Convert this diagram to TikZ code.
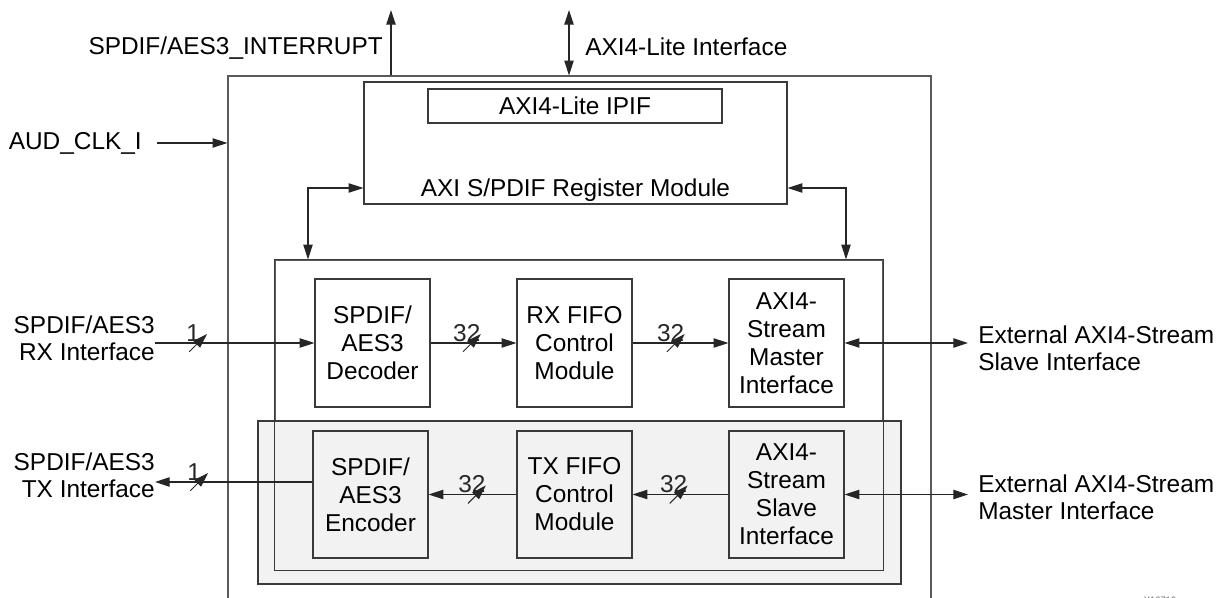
\documentclass[tikz,border=0pt]{standalone}
\usepackage{fontspec}
\setmainfont{Liberation Sans}
\usetikzlibrary{positioning}
\usetikzlibrary{arrows.meta}
\definecolor{linegray}{HTML}{5A5A5A}
\definecolor{boxgray}{HTML}{3A3A3A}
\definecolor{txfill}{HTML}{F2F2F2}
\tikzset{
    txt/.style = {inner sep=0pt, font=\fontsize{18.3pt}{20.5pt}\selectfont},
    frame/.style = {rectangle, draw=linegray, line width=0.9pt, inner sep=0pt},
    block/.style = {rectangle, draw=boxgray, line width=0.9pt, align=center, inner sep=0pt,
                    minimum width=86.25pt, minimum height=96pt, font=\fontsize{18.3pt}{21pt}\selectfont},
    sig/.style = {-{Triangle[length=11pt,width=7pt]}, line width=0.8pt, black!85},
    dsig/.style = {{Triangle[length=11pt,width=7pt]}-{Triangle[length=11pt,width=7pt]}, line width=0.8pt, black!85},
    busw/.style = {minimum size=13.5pt, inner sep=0pt, outer sep=0pt,
                   path picture={\draw[line width=0.7pt,black!85] (path picture bounding box.south west) -- (path picture bounding box.north east);}},
    buslbl/.style = {inner sep=0pt, label distance=-6pt, xshift=-3.75pt, font=\fontsize{18.3pt}{20.5pt}\selectfont}
}

\begin{document}
\begin{tikzpicture}[x=0.75pt, y=-0.75pt]
\useasboundingbox (0,0) rectangle (1225,598);
% core outline and register module
\node[frame, minimum width=527.25pt, minimum height=408pt] at (579.5,348) (outer) {};
\node[frame, draw=boxgray, minimum width=317.25pt, minimum height=91.5pt] at (575.5,143) (reg) {};
\node[frame, draw=boxgray, minimum width=220.5pt, minimum height=25.5pt, txt] at (575,106) (ipif) {AXI4-Lite IPIF};
\node[txt, anchor=base] at (575.5,197) (reglbl) {AXI S/PDIF Register Module};
%
\node[frame, minimum width=456pt, minimum height=232.5pt] at (579,415) (rxframe) {};
\node[frame, fill=txfill, draw=boxgray, minimum width=482.25pt, minimum height=122.25pt] at (579.5,502.5) (txframe) {};
\draw[boxgray, line width=0.9pt] (rxframe.south west) rectangle (rxframe.north east);
%
\node[block] at (372.5,343) (dec) {SPDIF/\\AES3\\Decoder};
\node[block] at (574.5,343) (rxf) {RX FIFO\\Control\\Module};
\node[block] at (786.5,343) (axm) {AXI4-\\Stream\\Master\\Interface};
\node[block, fill=txfill, minimum height=95.25pt] at (370.5,494.5) (enc) {SPDIF/\\AES3\\Encoder};
\node[block, fill=txfill, minimum height=95.25pt] at (574.5,494.5) (txf) {TX FIFO\\Control\\Module};
\node[block, fill=txfill, minimum height=95.25pt] at (786.5,494.5) (axs) {AXI4-\\Stream\\Slave\\Interface};
% outside labels
\node[txt, anchor=east] at (383,48) (intrlbl) {SPDIF/AES3\_INTERRUPT};
\node[txt, anchor=west] at (585,47) (litelbl) {AXI4-Lite Interface};
\node[txt, anchor=east] at (142,143) (aud) {AUD\_CLK\_I};
\node[txt, anchor=east, align=right] at (155,338) (rxin) {SPDIF/AES3\\RX Interface};
\node[txt, anchor=east, align=right] at (155,475) (txout) {SPDIF/AES3\\TX Interface};
\node[txt, anchor=west, align=left] at (978,348) (extslv) {External AXI4-Stream\\Slave Interface};
\node[txt, anchor=west, align=left] at (978,497) (extmst) {External AXI4-Stream\\Master Interface};
\node[inner sep=0pt, anchor=north, text=black!60, font=\fontsize{7pt}{8pt}\selectfont] at (1160,596.5) (fignum) {X16716};
\coordinate (intr) at (391,10);
\coordinate (lite) at (569,10);
%
\draw[sig] (outer.north -| intr) -- (intr);
\draw[dsig] (outer.north -| lite) -- (lite);
\draw[sig, shorten <=11.25pt] (aud.east) -- (aud.east -| outer.west);
\draw[dsig] (reg.west |- 0,188) -| (rxframe.north -| 308,0);
\draw[dsig] (reg.east |- 0,188) -| (rxframe.north -| 846,0);
%
\draw[sig] (rxin.east |- dec.west) -- (dec.west) node[busw, pos=0.27, label={[buslbl]above:1}] {};
\draw[sig] (dec.east) -- (rxf.west) node[busw, pos=0.48, label={[buslbl]above:32}] {};
\draw[sig] (rxf.east) -- (axm.west) node[busw, pos=0.45, label={[buslbl]above:32}] {};
\draw[dsig, shorten >=7.5pt] (axm.east) -- (axm.east -| extslv.west);
\draw[dsig, shorten >=7.5pt] (axs.east) -- (axs.east -| extmst.west);
\draw[sig] (axs.west) -- (txf.east) node[busw, pos=0.52, label={[buslbl]above:32}] {};
\draw[sig] (txf.west) -- (enc.east) node[busw, pos=0.45, label={[buslbl]above:32}] {};
\draw[sig] (enc.west |- 0,482) -- (txout.east |- 0,482) node[busw, pos=0.72, label={[buslbl]above:1}] {};
\end{tikzpicture}
\end{document}
